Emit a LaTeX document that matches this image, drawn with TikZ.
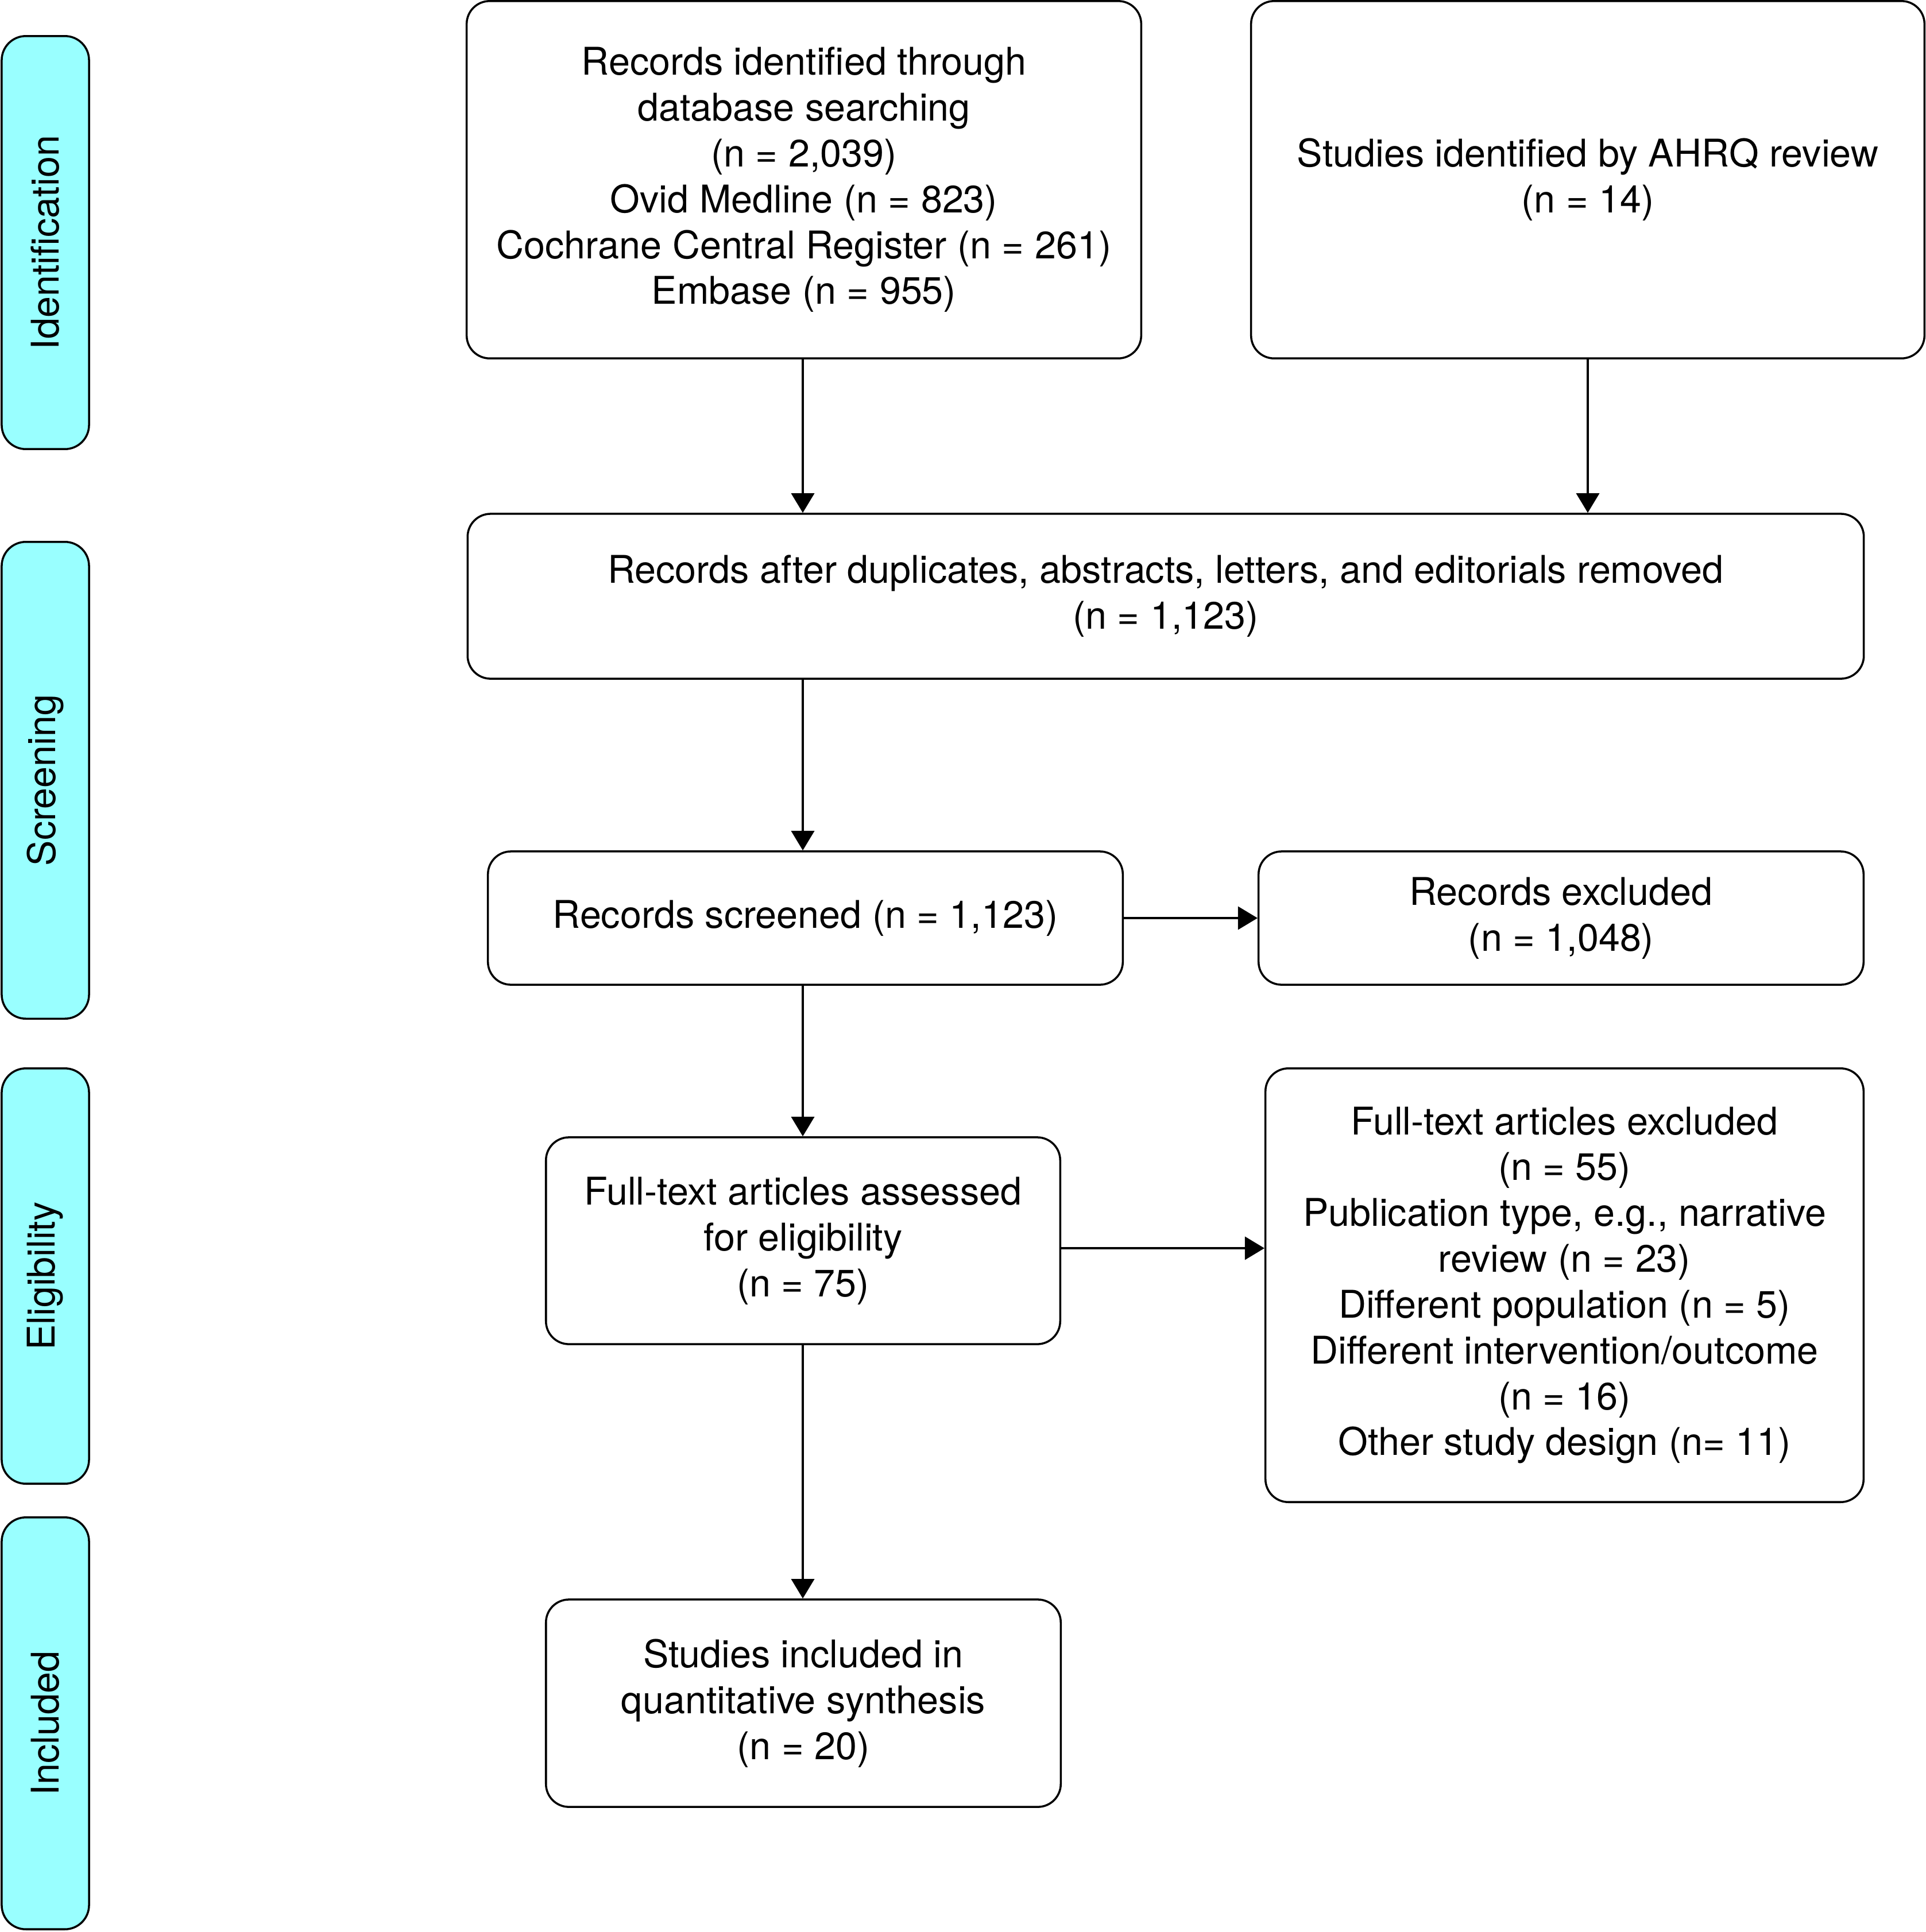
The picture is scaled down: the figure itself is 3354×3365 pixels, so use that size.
\documentclass[tikz,border=0pt]{standalone}
\usepackage{fontspec}
\setmainfont{TeX Gyre Heros}
\usetikzlibrary{arrows.meta}
\definecolor{phasecyan}{RGB}{153,255,255}
\begin{document}
\begin{tikzpicture}[x=0.01cm,y=-0.01cm,
  txt/.style={font=\fontsize{18.9}{22.7}\selectfont},
  box/.style={draw, line width=1pt, rounded corners=0.4cm, align=center, inner sep=0pt, txt},
  phase/.style={draw, line width=1pt, fill=phasecyan, rounded corners=0.42cm, rotate=90, minimum height=1.52cm, inner sep=0pt, txt},
  arr/.style={line width=1pt, -{Triangle[length=0.34cm,width=0.40cm]}}]
\useasboundingbox (0,0) rectangle (3354,3365);

% phase bars
\node[phase, minimum width=7.19cm] (pid) at (79,422.5) {Identification};
\node[phase, minimum width=8.30cm] (pscr) at (79,1359) {Screening};
\node[phase, minimum width=7.23cm] (pel) at (79,2222.5) {Eligibility};
\node[phase, minimum width=7.17cm] (pinc) at (79,3001.5) {Included};

% boxes
\node[box, minimum width=11.74cm, minimum height=6.22cm] (b1) at (1400,313)
  {Records identified through\\database searching\\(n = 2,039)\\Ovid Medline (n = 823)\\Cochrane Central Register (n = 261)\\Embase (n = 955)};
\node[box, minimum width=11.72cm, minimum height=6.22cm] (b2) at (2765,313)
  {Studies identified by AHRQ review\\(n = 14)};
\node[box, minimum width=24.30cm, minimum height=2.87cm] (b3) at (2030,1038.5)
  {Records after duplicates, abstracts, letters, and editorials removed\\(n = 1,123)};
\node[box, minimum width=11.05cm, minimum height=2.32cm] (b4) at (1402.5,1599)
  {Records screened (n = 1,123)};
\node[box, minimum width=10.53cm, minimum height=2.32cm] (b5) at (2718.5,1599)
  {Records excluded\\(n = 1,048)};
\node[box, minimum width=8.95cm, minimum height=3.60cm] (b6) at (1398.5,2161)
  {Full-text articles assessed\\for eligibility\\(n = 75)};
\node[box, minimum width=10.41cm, minimum height=7.55cm] (b7) at (2724.5,2238.5)
  {Full-text articles excluded\\(n = 55)\\Publication type, e.g., narrative\\review (n = 23)\\Different population (n = 5)\\Different intervention/outcome\\(n = 16)\\Other study design (n= 11)};
\node[box, minimum width=8.96cm, minimum height=3.61cm] (b8) at (1399,2966.5)
  {Studies included in\\quantitative synthesis\\(n = 20)};

% main vertical axis of the flow
\coordinate (axis) at (1398,0);

% connectors
\draw[arr] (b1.south -| axis) -- (b3.north -| axis);
\draw[arr] (b2.south) -- (b2.south |- b3.north);
\draw[arr] (b3.south -| axis) -- (b4.north -| axis);
\draw[arr] (b4.east) -- (b4.east -| b5.west);
\draw[arr] (b4.south -| axis) -- (b6.north -| axis);
\draw[arr] ([yshift=-0.13cm]b6.east) -- ([yshift=-0.13cm]b6.east -| b7.west);
\draw[arr] (b6.south -| axis) -- (b8.north -| axis);
\end{tikzpicture}
\end{document}
